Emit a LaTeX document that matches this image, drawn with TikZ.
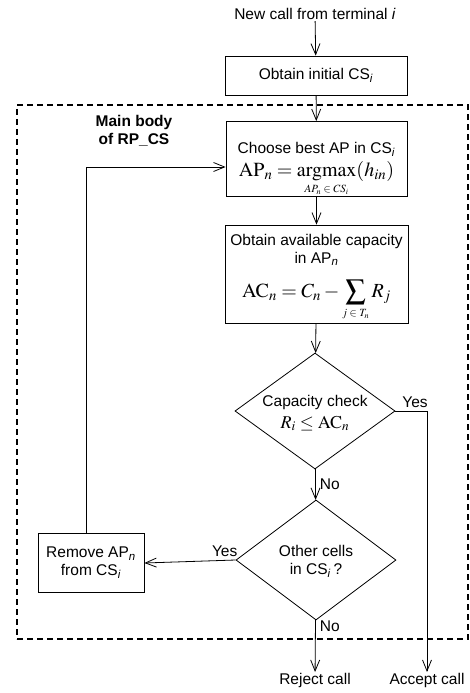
\documentclass[tikz,border=0pt]{standalone}
\usepackage{amsmath}
\usepackage{mathptmx}
\usepackage[no-math]{fontspec}
\setmainfont{Liberation Sans}
\usetikzlibrary{arrows.meta,shapes.geometric}

\newcommand{\sub}[1]{\textsubscript{\textit{#1}}}
\newcommand{\limtext}[1]{\mbox{\fontsize{11}{12}\selectfont$#1$}}

\begin{document}
\begin{tikzpicture}[x=1pt,y=-1pt,
  >={Straight Barb[length=11pt,width=9pt]},
  line width=0.8pt,
  txt/.style={font=\fontsize{15.5}{18}\selectfont},
  stepbox/.style={draw, rectangle, align=center, inner sep=0pt, txt},
  decision/.style={draw, diamond, aspect=1.38, inner sep=0pt, align=center, txt},
  lbl/.style={txt, inner sep=1pt},
  flow/.style={->},
  frame/.style={draw, line width=2pt, dash pattern=on 6pt off 4pt}]
\useasboundingbox (0,0) rectangle (469,693);

% dashed frame around the main loop
\node[frame, minimum width=451pt, minimum height=534pt] (body) at (242.5,372) {};
\node[font=\fontsize{15.5}{18}\selectfont\bfseries, align=center] (bodylabel) at (134,131)
  {Main body\\of RP\_CS};

% start and end labels
\node[lbl] (start) at (315,14) {New call from terminal \textit{i}};
\node[lbl, anchor=north] (reject) at (315,672) {Reject call};
\node[lbl, anchor=north] (accept) at (427,672) {Accept call};

% process boxes
\node[stepbox, minimum width=182pt, minimum height=39pt] (init) at (316,75.5)
  {Obtain initial CS\sub{i}};
\node[stepbox, minimum width=181pt, minimum height=74pt] (choose) at (316.5,159)
  {\rule{0pt}{32pt}Choose best AP in CS\sub{i}\\[5pt]
   {\fontsize{20}{22}\selectfont$\mathrm{AP}_n=\mathop{\mathrm{argmax}}\limits_{\limtext{AP_n\in CS_i}}(h_{in})$}};
\node[stepbox, minimum width=183pt, minimum height=98pt] (avail) at (316.5,274)
  {\rule{0pt}{18pt}Obtain available capacity\\in AP\sub{n}\\[13pt]
   {\fontsize{20}{22}\selectfont$\displaystyle\mathrm{AC}_n=C_n-\sum_{\limtext{j\in T_n}}R_j$}};
\node[stepbox, minimum width=106pt, minimum height=59pt] (remove) at (91,563)
  {Remove AP\sub{n}\\from CS\sub{i}};

% decisions
\node[decision, minimum width=160pt, minimum height=116pt] (cap) at (315,411)
  {\rule{0pt}{15pt}Capacity check\\[4pt]{\fontsize{18}{20}\selectfont$R_i\le\mathrm{AC}_n$}};
\node[decision, minimum width=160pt, minimum height=120pt] (other) at (316,560)
  {\rule{0pt}{14pt}Other cells\\in CS\sub{i}\,?};

% connectors
\coordinate (loop) at (86,167);
\draw[flow] (start) -- (init);
\draw[flow] (init) -- (choose);
\draw[flow] (choose) -- (avail);
\draw[flow] (avail) -- (cap);
\draw[flow] (cap) -- node[lbl, right, xshift=3pt] {No} (other);
\draw[flow] (cap.east) -| node[lbl, pos=0.31, above, yshift=2pt] {Yes} (accept.north);
\draw[flow] (other) -- node[lbl, right, pos=0.12, xshift=3pt] {No} (reject);
\draw[flow] (other.west) -- node[lbl, above, pos=0.12, yshift=2pt] {Yes} (remove.east);
\draw[flow] (remove.north -| loop) |- (choose.west |- loop);
\end{tikzpicture}
\end{document}
